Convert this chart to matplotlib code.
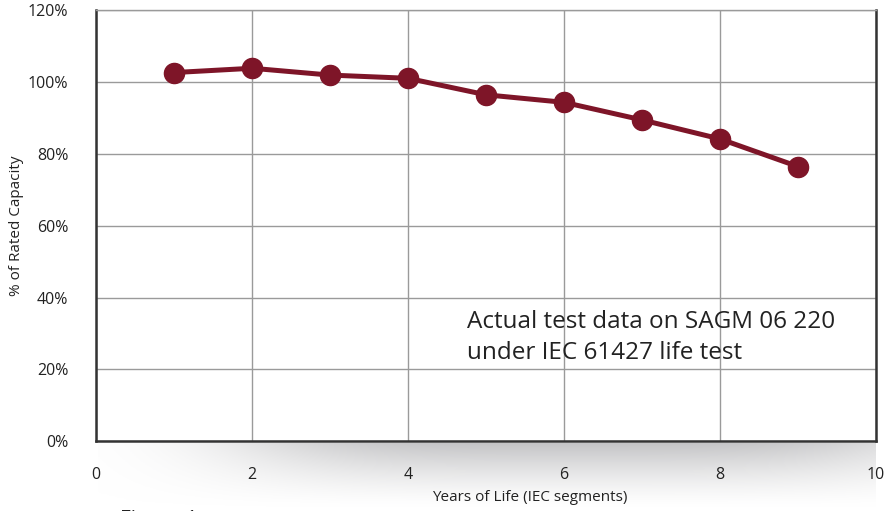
import numpy as np
import matplotlib
matplotlib.use("Agg")
import matplotlib.pyplot as plt
from matplotlib.colors import LinearSegmentedColormap

years = [1, 2, 3, 4, 5, 6, 7, 8, 9]
capacity = [102.7, 103.9, 102.0, 101.1, 96.5, 94.4, 89.5, 84.2, 76.5]
x_ticks = [0, 2, 4, 6, 8, 10]
y_ticks = [0, 20, 40, 60, 80, 100, 120]
y_tick_labels = ["0%", "20%", "40%", "60%", "80%", "100%", "120%"]
note_lines = ["Actual test data on SAGM 06 220", "under IEC 61427 life test"]

plt.rcParams['font.family'] = ['Open Sans', 'DejaVu Sans']

W, H = 886, 511
fig = plt.figure(figsize=(W / 100, H / 100), dpi=100)
fig.patch.set_facecolor('white')

# shadow under the plot area
sax = fig.add_axes([98 / W, (H - 508) / H, 778 / W, 65 / H], zorder=0)
gx = np.linspace(0, 1, 400)
gy = np.linspace(0, 1, 100)
GX, GY = np.meshgrid(gx, gy)
inten = np.exp(-((GX - 0.62) / 0.45) ** 4) * (1 - GY) ** 1.4
cmap = LinearSegmentedColormap.from_list('sh', ['#ffffff', '#c4c4c6'])
sax.imshow(inten, cmap=cmap, aspect='auto', vmin=0, vmax=1, extent=[0, 1, 0, 1], origin='upper')
sax.set_axis_off()

ax = fig.add_axes([96 / W, (H - 441) / H, 780 / W, 430.5 / H], zorder=2)
ax.set_facecolor('white')
ax.set_xlim(0, 10)
ax.set_ylim(0, 120)

ax.set_xticks(x_ticks)
ax.set_yticks(y_ticks)
ax.set_yticklabels(y_tick_labels)
ax.tick_params(axis='both', length=0, labelsize=11.5, colors='#222222')
ax.tick_params(axis='x', pad=19)
ax.tick_params(axis='y', pad=20)

ax.grid(True, color='#9a9a9a', linewidth=1.0)
ax.set_axisbelow(True)

for s in ['left', 'bottom', 'right']:
    ax.spines[s].set_color('#333333')
    ax.spines[s].set_linewidth(1.8)
ax.spines['top'].set_color('#9a9a9a')
ax.spines['top'].set_linewidth(1.0)

ax.plot(years, capacity, color='#7e1528', linewidth=3.6, marker='o',
        markersize=14.5, markerfacecolor='#7e1528', markeredgecolor='#7e1528',
        solid_capstyle='round', zorder=3, clip_on=False)

ax.text((467 - 96) / 780 * 10, (441 - 322) / 430.5 * 120, note_lines[0],
        fontsize=17.5, color='#222222', va='center', ha='left')
ax.text((467 - 96) / 780 * 10, (441 - 353) / 430.5 * 120, note_lines[1],
        fontsize=17.5, color='#222222', va='center', ha='left')

fig.text(17 / W, 1 - 226 / H, "% of Rated Capacity", rotation=90, fontsize=11,
         color='#222222', ha='center', va='center')
fig.text(530 / W, 1 - 497 / H, "Years of Life (IEC segments)", fontsize=11,
         color='#222222', ha='center', va='center')
fig.text(120 / W, 1 - 510 / H, "Figure 1", fontsize=15, color='#222222',
         ha='left', va='top')

fig.savefig('out.png', dpi=100, facecolor='white')
